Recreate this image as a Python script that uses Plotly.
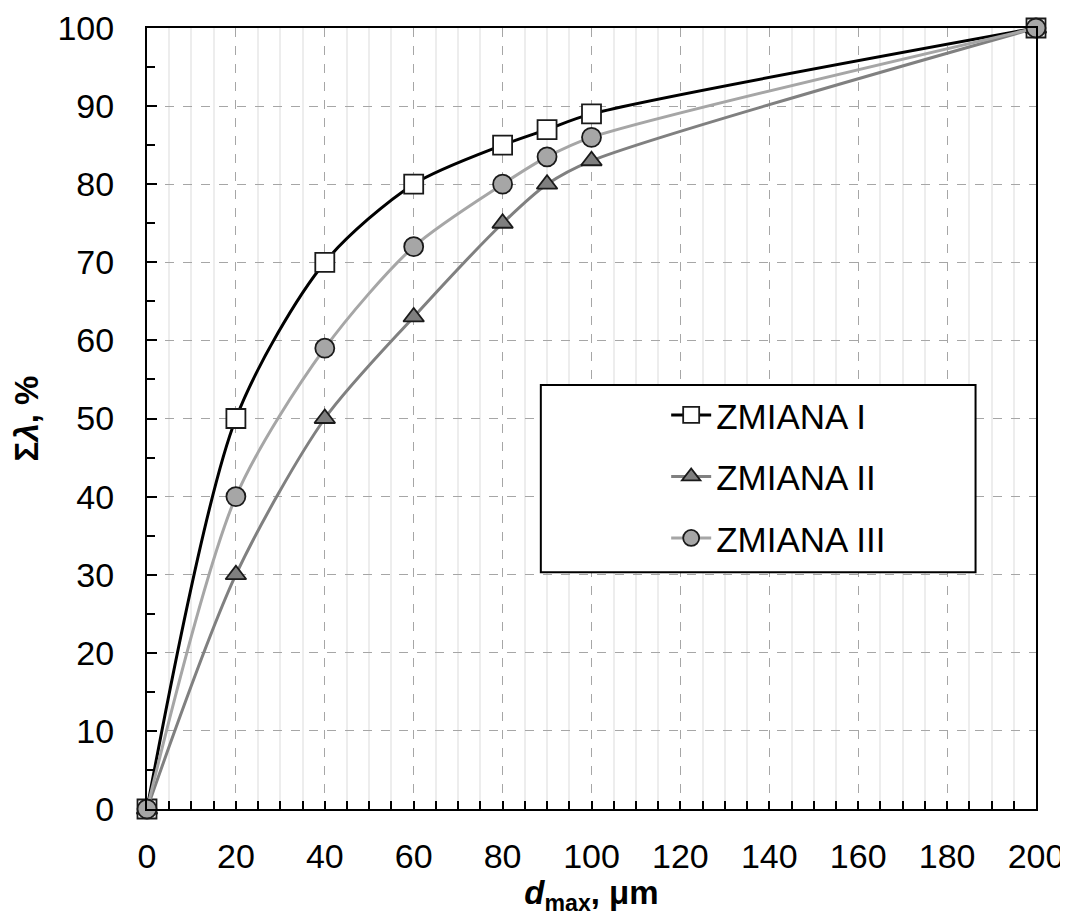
import plotly.graph_objects as go

d_max = [0, 20, 40, 60, 80, 90, 100, 200]
zmiana_1 = [0, 50, 70, 80, 85, 87, 89, 100]
zmiana_2 = [0, 30, 50, 63, 75, 80, 83, 100]
zmiana_3 = [0, 40, 59, 72, 80, 83.5, 86, 100]
names = ["ZMIANA I", "ZMIANA II", "ZMIANA III"]

FONT = "Liberation Sans, Arial, sans-serif"
fig = go.Figure()

styles = [
    dict(line_color="#000000", symbol="square", fill="#ffffff", size=19),
    dict(line_color="#808080", symbol="triangle-up", fill="#7f7f7f", size=18),
    dict(line_color="#a6a6a6", symbol="circle", fill="#a6a6a6", size=19),
]
for i, (ys, nm, st) in enumerate(zip([zmiana_1, zmiana_2, zmiana_3], names, styles)):
    fig.add_trace(go.Scatter(
        x=d_max, y=ys, name=nm, mode="lines+markers",
        line=dict(color=st["line_color"], width=3, shape="spline", smoothing=0.8),
        marker=dict(symbol=st["symbol"], size=st["size"], color=st["fill"],
                    line=dict(color="#1a1a1a", width=1.8)),
        cliponaxis=False, legendgroup=f"g{i}",
    ))

fig.add_shape(type="rect", xref="paper", yref="paper",
              x0=0.443, x1=0.932, y0=0.303, y1=0.543,
              line=dict(color="#000000", width=2), fillcolor="#ffffff", layer="above")

fig.update_layout(
    width=1060, height=908,
    margin=dict(l=139, r=32, t=20, b=107, autoexpand=False),
    paper_bgcolor="white", plot_bgcolor="white",
    font=dict(family=FONT, size=34, color="#000000"),
    showlegend=True,
    legend=dict(x=0.584, y=0.542, xanchor="left", yanchor="top",
                bgcolor="rgba(0,0,0,0)", borderwidth=0,
                font=dict(size=35), tracegroupgap=13, itemwidth=40),
    xaxis=dict(
        range=[0, 200], dtick=20, tick0=0, automargin=False,
        showline=True, linecolor="#000000", linewidth=2, mirror=True,
        ticks="inside", ticklen=8, tickwidth=2, tickcolor="#000000",
        showgrid=True, gridcolor="#a6a6a6", gridwidth=1, griddash="dash",
        zeroline=False, ticklabelstandoff=16,
        minor=dict(dtick=5, showgrid=True, gridcolor="#ededed", gridwidth=1.5, griddash="solid",
                   ticks="inside", ticklen=8, tickwidth=2, tickcolor="#000000"),
        title=dict(text="<b><i>d</i><sub>max</sub>, μm</b>", font=dict(size=33), standoff=6),
    ),
    yaxis=dict(
        range=[0, 100], dtick=10, tick0=0, automargin=False,
        showline=True, linecolor="#000000", linewidth=2, mirror=True,
        ticks="inside", ticklen=10, tickwidth=2, tickcolor="#000000",
        showgrid=True, gridcolor="#a6a6a6", gridwidth=1, griddash="dash",
        zeroline=False, ticklabelstandoff=24,
        minor=dict(dtick=5, showgrid=False,
                   ticks="inside", ticklen=8, tickwidth=2, tickcolor="#000000"),
        title=dict(text="<b>Σ<i>λ</i>, %</b>", font=dict(size=33), standoff=12),
    ),
)

fig.write_html("out.html")
